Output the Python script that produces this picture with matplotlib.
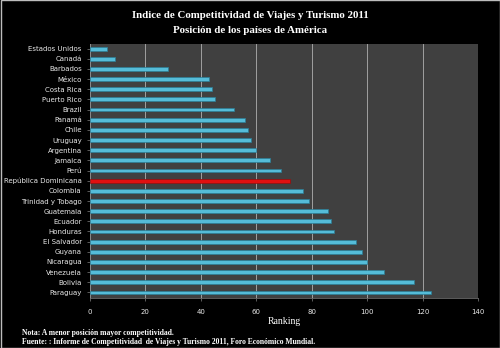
import matplotlib
matplotlib.use("Agg")
import matplotlib.pyplot as plt
from matplotlib.patches import Rectangle

# ranking data (posicion en el indice 2011)
paises = ["Estados Unidos", "Canadá", "Barbados", "México", "Costa Rica",
          "Puerto Rico", "Brazil", "Panamá", "Chile", "Uruguay", "Argentina",
          "Jamaica", "Perú", "República Dominicana", "Colombia",
          "Trinidad y Tobago", "Guatemala", "Ecuador", "Honduras",
          "El Salvador", "Guyana", "Nicaragua", "Venezuela", "Bolivia",
          "Paraguay"]
ranking = [6, 9, 28, 43, 44, 45, 52, 56, 57, 58, 60, 65, 69, 72, 77, 79,
           86, 87, 88, 96, 98, 100, 106, 117, 123]
resaltado = "República Dominicana"
x_ticks = [0, 20, 40, 60, 80, 100, 120, 140]

fig = plt.figure(figsize=(5, 3.48), dpi=100, facecolor="black")
ax = fig.add_axes([0.18, 0.145, 0.776, 0.73])
ax.set_facecolor("#404040")

colores = ["#e01010" if p == resaltado else "#55bcd8" for p in paises]
bordes = ["#901010" if p == resaltado else "#2b7d96" for p in paises]
pos = list(range(len(paises)))
ax.barh(pos, ranking, height=0.38, color=colores, edgecolor=bordes,
        linewidth=0.5, zorder=3)

ax.set_ylim(len(paises) - 0.5, -0.5)
ax.set_xlim(0, 140)
ax.set_xticks(x_ticks)
ax.set_yticks(pos)
ax.set_yticklabels(paises)
ax.xaxis.grid(True, color="#a0a0a0", linewidth=0.7, zorder=0)
ax.tick_params(axis="y", colors="#808080", labelcolor="#e8e8e8", labelsize=5,
               length=2, width=0.5, pad=4)
ax.tick_params(axis="x", colors="#808080", labelcolor="#e8e8e8", labelsize=5,
               length=2, width=0.5, pad=6)
for s in ["top", "right"]:
    ax.spines[s].set_visible(False)
ax.spines["left"].set_color("#808080")
ax.spines["bottom"].set_color("#808080")
ax.spines["left"].set_linewidth(0.5)
ax.spines["bottom"].set_linewidth(0.5)

ax.set_xlabel("Ranking", color="white", fontsize=7, family="Liberation Serif",
              labelpad=2)

fig.text(0.5, 0.955, "Indice de Competitividad de Viajes y Turismo 2011",
         ha="center", va="center", color="white", fontsize=7.8,
         family="Liberation Serif", weight="bold")
fig.text(0.5, 0.913, "Posición de los países de América",
         ha="center", va="center", color="white", fontsize=7.8,
         family="Liberation Serif", weight="bold")

fig.text(0.044, 0.043, "Nota: A menor posición mayor competitividad.",
         color="white", fontsize=5.5, family="Liberation Serif", weight="bold",
         va="center")
fig.text(0.044, 0.017,
         "Fuente: : Informe de Competitividad  de Viajes y Turismo 2011, Foro Económico Mundial.",
         color="white", fontsize=5.5, family="Liberation Serif", weight="bold",
         va="center")

fig.patches.append(Rectangle((0.001, 0.001), 0.998, 0.998,
                             transform=fig.transFigure, fill=False,
                             edgecolor="#bdbdbd", linewidth=1))

fig.savefig("out.png", dpi=100, facecolor="black")
